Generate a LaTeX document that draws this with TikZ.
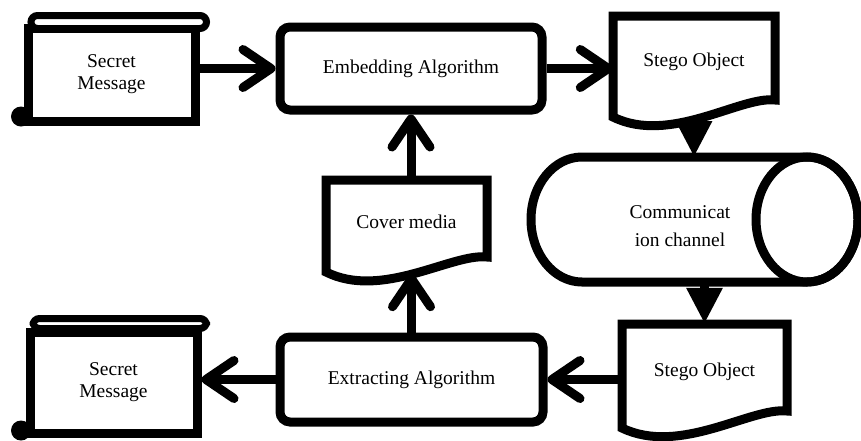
\documentclass[tikz,border=0pt]{standalone}
\usepackage{fontspec}
\setmainfont{Liberation Serif}
\usetikzlibrary{arrows.meta}
\begin{document}
\begin{tikzpicture}[x=1pt,y=-1pt,
  stroke/.style={line width=9pt},
  lbl/.style={font=\fontsize{19.5}{22}\selectfont, align=center, inner sep=0pt},
  scroll/.style={stroke, lbl, draw, rectangle},
  algo/.style={stroke, lbl, draw, rectangle, rounded corners=10pt},
  doc/.style={lbl, rectangle, text height=13pt},
  barb/.style={stroke, -{Straight Barb[length=28pt,width=38pt,round]}},
  tri/.style={stroke, -{Triangle[length=36pt,width=34pt]}},
]
% canvas
\fill[white] (0,0) rectangle (861,440);
\path[use as bounding box] (0,0) rectangle (861,440);

% secret message (sender side)
\node[scroll, minimum width=167pt, minimum height=93pt] (sm1) at (111.5,74.5) {Secret\\Message};
\draw[line width=7pt, fill=white, rounded corners=6.5pt] (31,15.5) rectangle (206.5,28.5);
\fill (21,116.5) circle[radius=10pt];

% embedding
\node[algo, minimum width=262pt, minimum height=83pt] (emb) at (411,68.5) {Embedding Algorithm};

% stego object (sent)
\node[doc, minimum width=162pt, minimum height=103pt, text depth=15pt] (stego1) at (694,67.5) {Stego Object};
\draw[stroke] (613,16) -- (775,16) -- (775,100) .. controls (740,96) and (670,145) .. (613,117) -- cycle;

% communication channel
\draw[stroke] (582,157) -- (807,157) arc[start angle=-90, end angle=90, x radius=51, y radius=62.5]
  -- (582,282) arc[start angle=90, end angle=270, x radius=51, y radius=62.5] -- cycle;
\draw[stroke] (807,219.5) ellipse[x radius=51, y radius=62.5];
\node[lbl, font=\fontsize{19.5}{28}\selectfont] (cyl) at (680,226) {Communicat\\ion channel};
\coordinate (cyltop) at (697,157);
\coordinate (cylbot) at (697,282);

% cover media
\node[doc, minimum width=161pt, minimum height=94pt, text depth=10pt] (cover) at (406.5,227) {Cover media};
\draw[stroke] (326,180) -- (487,180) -- (487,257) .. controls (452,253) and (382,300) .. (326,272) -- cycle;

% stego object (received)
\node[doc, minimum width=165pt, minimum height=102pt, text depth=10pt] (stego2) at (704.5,375) {Stego Object};
\draw[stroke] (622,324) -- (787,324) -- (787,411) .. controls (751,407) and (680,456) .. (622,428) -- cycle;

% extracting
\node[algo, minimum width=263pt, minimum height=85pt] (ext) at (411.5,379.5) {Extracting Algorithm};

% secret message (receiver side)
\node[scroll, minimum width=167pt, minimum height=101pt] (sm2) at (113.5,382.5) {Secret\\Message};
\draw[line width=7pt, fill=white, rounded corners=6.5pt] (33,318.5) rectangle (206.5,328.5);
\fill (21,430.5) circle[radius=10pt];

% flow
\draw[barb] (emb.west -| sm1.east) -- (emb.west);
\draw[barb] (emb.east) -- (emb.east -| stego1.west);
\draw[tri] (stego1.south) -- (stego1.south |- cyltop);
\draw[tri] (stego2.north |- cylbot) -- (stego2.north);
\draw[barb] (ext.east -| stego2.west) -- (ext.east);
\draw[barb] (ext.west) -- (ext.west -| sm2.east);
\draw[barb] (ext.north) -- (ext.north |- cover.south);
\draw[barb] (emb.south |- cover.north) -- (emb.south);
\end{tikzpicture}
\end{document}
